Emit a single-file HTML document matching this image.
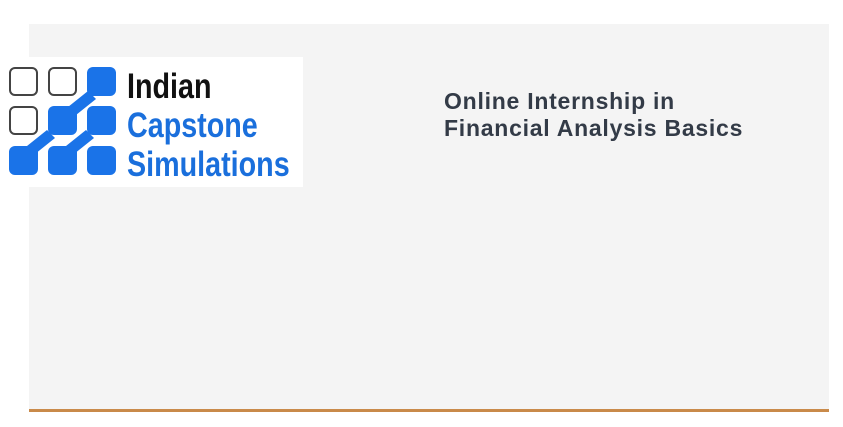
<!DOCTYPE html>
<html><head><meta charset="utf-8"><style>
html,body{margin:0;padding:0;background:#fff;width:843px;height:427px;overflow:hidden;position:relative;font-family:"Liberation Sans",sans-serif}
.panel{position:absolute;left:29px;top:24px;width:800px;height:386px;background:#f4f4f4}
.rule{position:absolute;left:29px;top:409px;width:800px;height:3px;background:#c98a4a}
.logo{position:absolute;left:0;top:57px;width:303px;height:130px;background:#fff}
.sq{position:absolute;width:29px;height:29px;border-radius:6px;box-sizing:border-box}
.o{border:2px solid #444;background:#fff}
.b{background:#1a73e8}
.lt{position:absolute;left:127px;font-size:35px;font-weight:bold;transform-origin:0 0;transform:scaleX(0.82);white-space:nowrap;line-height:1}
.title{position:absolute;left:444px;top:88px;font-size:23px;letter-spacing:0.75px;font-weight:bold;color:#333b47;line-height:27px}
</style></head><body>
<div class="panel"></div>
<div class="rule"></div>
<div class="logo">
  <svg width="120" height="130" style="position:absolute;left:0;top:0">
    <polygon points="88,34 96,42 76,58 68,50" fill="#1a73e8"/>
    <polygon points="86,73 94,81 74,97 66,89" fill="#1a73e8"/>
    <polygon points="47,73 55,81 35,97 27,89" fill="#1a73e8"/>
  </svg>
  <div class="sq o" style="left:9px;top:10px"></div>
  <div class="sq o" style="left:48px;top:10px"></div>
  <div class="sq b" style="left:87px;top:10px"></div>
  <div class="sq o" style="left:9px;top:49px"></div>
  <div class="sq b" style="left:48px;top:49px"></div>
  <div class="sq b" style="left:87px;top:49px"></div>
  <div class="sq b" style="left:9px;top:89px"></div>
  <div class="sq b" style="left:48px;top:89px"></div>
  <div class="sq b" style="left:87px;top:89px"></div>
  <div class="lt" style="top:12px;color:#111">Indian</div>
  <div class="lt" style="top:51px;color:#1a6fdc">Capstone</div>
  <div class="lt" style="top:90px;color:#1a6fdc">Simulations</div>
</div>
<div class="title">Online Internship in<br>Financial Analysis Basics</div>
</body></html>
